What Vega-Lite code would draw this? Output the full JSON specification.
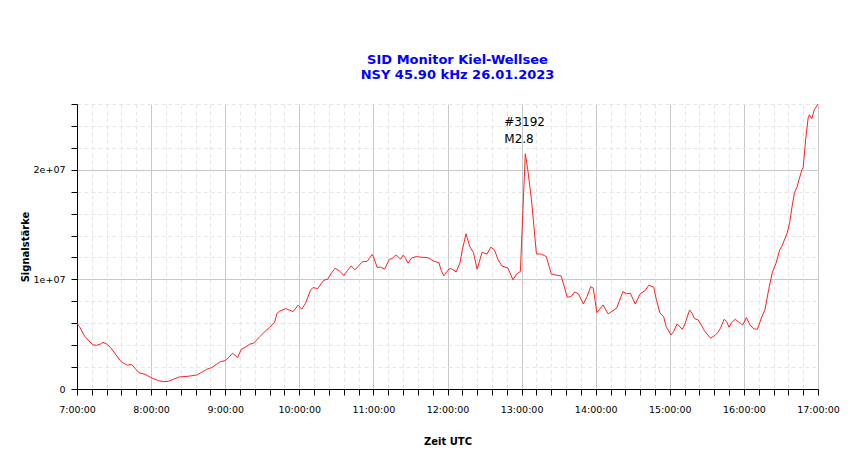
{
  "$schema": "https://vega.github.io/schema/vega-lite/v6.json",
  "autosize": "none",
  "width": 741,
  "height": 285,
  "padding": {"left": 77, "top": 104, "right": 32, "bottom": 70},
  "config": {"view": {"stroke": null}, "font": "DejaVu Sans"},
  "title": {
    "text": ["SID Monitor Kiel-Wellsee", "NSY 45.90 kHz 26.01.2023"],
    "font": "DejaVu Sans",
    "fontSize": 13,
    "fontWeight": "bold",
    "color": "#0000ff",
    "dx": 10,
    "offset": 20
  },
  "layer": [
    {
      "data": {"values": [
        {"Zeit": "2023-01-26T07:00:00Z", "Signal": 6.0e6},
        {"Zeit": "2023-01-26T07:02:00Z", "Signal": 5.7e6},
        {"Zeit": "2023-01-26T07:06:00Z", "Signal": 4.84e6},
        {"Zeit": "2023-01-26T07:09:00Z", "Signal": 4.47e6},
        {"Zeit": "2023-01-26T07:13:00Z", "Signal": 4.02e6},
        {"Zeit": "2023-01-26T07:16:00Z", "Signal": 3.99e6},
        {"Zeit": "2023-01-26T07:19:00Z", "Signal": 4.1e6},
        {"Zeit": "2023-01-26T07:21:00Z", "Signal": 4.26e6},
        {"Zeit": "2023-01-26T07:24:00Z", "Signal": 4.1e6},
        {"Zeit": "2023-01-26T07:27:00Z", "Signal": 3.8e6},
        {"Zeit": "2023-01-26T07:31:00Z", "Signal": 3.2e6},
        {"Zeit": "2023-01-26T07:35:00Z", "Signal": 2.59e6},
        {"Zeit": "2023-01-26T07:37:00Z", "Signal": 2.4e6},
        {"Zeit": "2023-01-26T07:41:00Z", "Signal": 2.16e6},
        {"Zeit": "2023-01-26T07:44:00Z", "Signal": 2.25e6},
        {"Zeit": "2023-01-26T07:47:00Z", "Signal": 1.89e6},
        {"Zeit": "2023-01-26T07:50:00Z", "Signal": 1.49e6},
        {"Zeit": "2023-01-26T07:55:00Z", "Signal": 1.34e6},
        {"Zeit": "2023-01-26T08:01:00Z", "Signal": 0.98e6},
        {"Zeit": "2023-01-26T08:06:00Z", "Signal": 0.76e6},
        {"Zeit": "2023-01-26T08:10:00Z", "Signal": 0.67e6},
        {"Zeit": "2023-01-26T08:14:00Z", "Signal": 0.7e6},
        {"Zeit": "2023-01-26T08:18:00Z", "Signal": 0.89e6},
        {"Zeit": "2023-01-26T08:23:00Z", "Signal": 1.1e6},
        {"Zeit": "2023-01-26T08:30:00Z", "Signal": 1.16e6},
        {"Zeit": "2023-01-26T08:37:00Z", "Signal": 1.28e6},
        {"Zeit": "2023-01-26T08:41:00Z", "Signal": 1.52e6},
        {"Zeit": "2023-01-26T08:45:00Z", "Signal": 1.8e6},
        {"Zeit": "2023-01-26T08:49:00Z", "Signal": 1.95e6},
        {"Zeit": "2023-01-26T08:53:00Z", "Signal": 2.25e6},
        {"Zeit": "2023-01-26T08:56:00Z", "Signal": 2.49e6},
        {"Zeit": "2023-01-26T09:00:00Z", "Signal": 2.59e6},
        {"Zeit": "2023-01-26T09:03:00Z", "Signal": 2.9e6},
        {"Zeit": "2023-01-26T09:06:00Z", "Signal": 3.26e6},
        {"Zeit": "2023-01-26T09:10:00Z", "Signal": 2.86e6},
        {"Zeit": "2023-01-26T09:13:00Z", "Signal": 3.62e6},
        {"Zeit": "2023-01-26T09:17:00Z", "Signal": 3.86e6},
        {"Zeit": "2023-01-26T09:20:00Z", "Signal": 4.1e6},
        {"Zeit": "2023-01-26T09:23:00Z", "Signal": 4.17e6},
        {"Zeit": "2023-01-26T09:28:00Z", "Signal": 4.78e6},
        {"Zeit": "2023-01-26T09:32:00Z", "Signal": 5.23e6},
        {"Zeit": "2023-01-26T09:36:00Z", "Signal": 5.63e6},
        {"Zeit": "2023-01-26T09:40:00Z", "Signal": 6.1e6},
        {"Zeit": "2023-01-26T09:42:00Z", "Signal": 6.9e6},
        {"Zeit": "2023-01-26T09:44:00Z", "Signal": 7.1e6},
        {"Zeit": "2023-01-26T09:49:00Z", "Signal": 7.33e6},
        {"Zeit": "2023-01-26T09:52:00Z", "Signal": 7.2e6},
        {"Zeit": "2023-01-26T09:55:00Z", "Signal": 7.06e6},
        {"Zeit": "2023-01-26T09:59:00Z", "Signal": 7.64e6},
        {"Zeit": "2023-01-26T10:02:00Z", "Signal": 7.28e6},
        {"Zeit": "2023-01-26T10:05:00Z", "Signal": 7.82e6},
        {"Zeit": "2023-01-26T10:09:00Z", "Signal": 8.98e6},
        {"Zeit": "2023-01-26T10:11:00Z", "Signal": 9.25e6},
        {"Zeit": "2023-01-26T10:15:00Z", "Signal": 9.16e6},
        {"Zeit": "2023-01-26T10:18:00Z", "Signal": 9.65e6},
        {"Zeit": "2023-01-26T10:20:00Z", "Signal": 9.93e6},
        {"Zeit": "2023-01-26T10:23:00Z", "Signal": 10.02e6},
        {"Zeit": "2023-01-26T10:26:00Z", "Signal": 10.57e6},
        {"Zeit": "2023-01-26T10:29:00Z", "Signal": 11.02e6},
        {"Zeit": "2023-01-26T10:33:00Z", "Signal": 10.72e6},
        {"Zeit": "2023-01-26T10:36:00Z", "Signal": 10.35e6},
        {"Zeit": "2023-01-26T10:39:00Z", "Signal": 10.8e6},
        {"Zeit": "2023-01-26T10:42:00Z", "Signal": 11.23e6},
        {"Zeit": "2023-01-26T10:45:00Z", "Signal": 10.87e6},
        {"Zeit": "2023-01-26T10:48:00Z", "Signal": 11.23e6},
        {"Zeit": "2023-01-26T10:51:00Z", "Signal": 11.6e6},
        {"Zeit": "2023-01-26T10:55:00Z", "Signal": 11.66e6},
        {"Zeit": "2023-01-26T10:59:00Z", "Signal": 12.27e6},
        {"Zeit": "2023-01-26T11:00:00Z", "Signal": 12.08e6},
        {"Zeit": "2023-01-26T11:03:00Z", "Signal": 11.11e6},
        {"Zeit": "2023-01-26T11:06:00Z", "Signal": 11.11e6},
        {"Zeit": "2023-01-26T11:09:00Z", "Signal": 10.93e6},
        {"Zeit": "2023-01-26T11:13:00Z", "Signal": 11.84e6},
        {"Zeit": "2023-01-26T11:15:00Z", "Signal": 11.9e6},
        {"Zeit": "2023-01-26T11:18:00Z", "Signal": 12.21e6},
        {"Zeit": "2023-01-26T11:20:00Z", "Signal": 12.08e6},
        {"Zeit": "2023-01-26T11:22:00Z", "Signal": 11.84e6},
        {"Zeit": "2023-01-26T11:24:00Z", "Signal": 12.21e6},
        {"Zeit": "2023-01-26T11:26:00Z", "Signal": 11.93e6},
        {"Zeit": "2023-01-26T11:28:00Z", "Signal": 11.48e6},
        {"Zeit": "2023-01-26T11:31:00Z", "Signal": 11.96e6},
        {"Zeit": "2023-01-26T11:35:00Z", "Signal": 12.08e6},
        {"Zeit": "2023-01-26T11:39:00Z", "Signal": 12.02e6},
        {"Zeit": "2023-01-26T11:44:00Z", "Signal": 11.99e6},
        {"Zeit": "2023-01-26T11:49:00Z", "Signal": 11.66e6},
        {"Zeit": "2023-01-26T11:53:00Z", "Signal": 11.53e6},
        {"Zeit": "2023-01-26T11:55:00Z", "Signal": 10.8e6},
        {"Zeit": "2023-01-26T11:57:00Z", "Signal": 10.32e6},
        {"Zeit": "2023-01-26T12:01:00Z", "Signal": 10.93e6},
        {"Zeit": "2023-01-26T12:03:00Z", "Signal": 10.99e6},
        {"Zeit": "2023-01-26T12:07:00Z", "Signal": 10.68e6},
        {"Zeit": "2023-01-26T12:10:00Z", "Signal": 11.48e6},
        {"Zeit": "2023-01-26T12:12:00Z", "Signal": 12.69e6},
        {"Zeit": "2023-01-26T12:15:00Z", "Signal": 14.16e6},
        {"Zeit": "2023-01-26T12:18:00Z", "Signal": 13.0e6},
        {"Zeit": "2023-01-26T12:21:00Z", "Signal": 12.45e6},
        {"Zeit": "2023-01-26T12:24:00Z", "Signal": 10.93e6},
        {"Zeit": "2023-01-26T12:28:00Z", "Signal": 12.48e6},
        {"Zeit": "2023-01-26T12:32:00Z", "Signal": 12.3e6},
        {"Zeit": "2023-01-26T12:35:00Z", "Signal": 12.94e6},
        {"Zeit": "2023-01-26T12:38:00Z", "Signal": 12.69e6},
        {"Zeit": "2023-01-26T12:41:00Z", "Signal": 11.78e6},
        {"Zeit": "2023-01-26T12:44:00Z", "Signal": 11.23e6},
        {"Zeit": "2023-01-26T12:49:00Z", "Signal": 11.02e6},
        {"Zeit": "2023-01-26T12:53:00Z", "Signal": 9.95e6},
        {"Zeit": "2023-01-26T12:56:00Z", "Signal": 10.5e6},
        {"Zeit": "2023-01-26T12:59:00Z", "Signal": 10.72e6},
        {"Zeit": "2023-01-26T13:03:00Z", "Signal": 21.46e6},
        {"Zeit": "2023-01-26T13:05:00Z", "Signal": 20.0e6},
        {"Zeit": "2023-01-26T13:08:00Z", "Signal": 17.26e6},
        {"Zeit": "2023-01-26T13:12:00Z", "Signal": 12.33e6},
        {"Zeit": "2023-01-26T13:16:00Z", "Signal": 12.3e6},
        {"Zeit": "2023-01-26T13:20:00Z", "Signal": 12.08e6},
        {"Zeit": "2023-01-26T13:24:00Z", "Signal": 10.5e6},
        {"Zeit": "2023-01-26T13:27:00Z", "Signal": 10.41e6},
        {"Zeit": "2023-01-26T13:32:00Z", "Signal": 10.32e6},
        {"Zeit": "2023-01-26T13:37:00Z", "Signal": 8.37e6},
        {"Zeit": "2023-01-26T13:40:00Z", "Signal": 8.43e6},
        {"Zeit": "2023-01-26T13:43:00Z", "Signal": 8.86e6},
        {"Zeit": "2023-01-26T13:46:00Z", "Signal": 8.68e6},
        {"Zeit": "2023-01-26T13:50:00Z", "Signal": 7.76e6},
        {"Zeit": "2023-01-26T13:53:00Z", "Signal": 8.43e6},
        {"Zeit": "2023-01-26T13:56:00Z", "Signal": 9.34e6},
        {"Zeit": "2023-01-26T13:58:00Z", "Signal": 9.2e6},
        {"Zeit": "2023-01-26T14:01:00Z", "Signal": 6.97e6},
        {"Zeit": "2023-01-26T14:06:00Z", "Signal": 7.67e6},
        {"Zeit": "2023-01-26T14:10:00Z", "Signal": 6.85e6},
        {"Zeit": "2023-01-26T14:14:00Z", "Signal": 7.15e6},
        {"Zeit": "2023-01-26T14:17:00Z", "Signal": 7.37e6},
        {"Zeit": "2023-01-26T14:22:00Z", "Signal": 8.89e6},
        {"Zeit": "2023-01-26T14:25:00Z", "Signal": 8.68e6},
        {"Zeit": "2023-01-26T14:28:00Z", "Signal": 8.74e6},
        {"Zeit": "2023-01-26T14:32:00Z", "Signal": 7.76e6},
        {"Zeit": "2023-01-26T14:36:00Z", "Signal": 8.68e6},
        {"Zeit": "2023-01-26T14:40:00Z", "Signal": 8.98e6},
        {"Zeit": "2023-01-26T14:43:00Z", "Signal": 9.47e6},
        {"Zeit": "2023-01-26T14:47:00Z", "Signal": 9.29e6},
        {"Zeit": "2023-01-26T14:49:00Z", "Signal": 8.2e6},
        {"Zeit": "2023-01-26T14:52:00Z", "Signal": 6.94e6},
        {"Zeit": "2023-01-26T14:55:00Z", "Signal": 6.6e6},
        {"Zeit": "2023-01-26T14:57:00Z", "Signal": 5.69e6},
        {"Zeit": "2023-01-26T15:01:00Z", "Signal": 4.93e6},
        {"Zeit": "2023-01-26T15:03:00Z", "Signal": 5.23e6},
        {"Zeit": "2023-01-26T15:06:00Z", "Signal": 5.94e6},
        {"Zeit": "2023-01-26T15:10:00Z", "Signal": 5.45e6},
        {"Zeit": "2023-01-26T15:12:00Z", "Signal": 5.84e6},
        {"Zeit": "2023-01-26T15:16:00Z", "Signal": 7.21e6},
        {"Zeit": "2023-01-26T15:18:00Z", "Signal": 6.91e6},
        {"Zeit": "2023-01-26T15:20:00Z", "Signal": 6.42e6},
        {"Zeit": "2023-01-26T15:23:00Z", "Signal": 6.3e6},
        {"Zeit": "2023-01-26T15:27:00Z", "Signal": 5.54e6},
        {"Zeit": "2023-01-26T15:28:00Z", "Signal": 5.32e6},
        {"Zeit": "2023-01-26T15:33:00Z", "Signal": 4.63e6},
        {"Zeit": "2023-01-26T15:37:00Z", "Signal": 4.93e6},
        {"Zeit": "2023-01-26T15:39:00Z", "Signal": 5.18e6},
        {"Zeit": "2023-01-26T15:41:00Z", "Signal": 5.54e6},
        {"Zeit": "2023-01-26T15:44:00Z", "Signal": 6.36e6},
        {"Zeit": "2023-01-26T15:46:00Z", "Signal": 6.15e6},
        {"Zeit": "2023-01-26T15:48:00Z", "Signal": 5.63e6},
        {"Zeit": "2023-01-26T15:50:00Z", "Signal": 6.06e6},
        {"Zeit": "2023-01-26T15:53:00Z", "Signal": 6.36e6},
        {"Zeit": "2023-01-26T15:57:00Z", "Signal": 6.0e6},
        {"Zeit": "2023-01-26T15:59:00Z", "Signal": 5.84e6},
        {"Zeit": "2023-01-26T16:02:00Z", "Signal": 6.51e6},
        {"Zeit": "2023-01-26T16:05:00Z", "Signal": 5.84e6},
        {"Zeit": "2023-01-26T16:08:00Z", "Signal": 5.48e6},
        {"Zeit": "2023-01-26T16:11:00Z", "Signal": 5.45e6},
        {"Zeit": "2023-01-26T16:14:00Z", "Signal": 6.46e6},
        {"Zeit": "2023-01-26T16:17:00Z", "Signal": 7.21e6},
        {"Zeit": "2023-01-26T16:20:00Z", "Signal": 9.04e6},
        {"Zeit": "2023-01-26T16:23:00Z", "Signal": 10.62e6},
        {"Zeit": "2023-01-26T16:26:00Z", "Signal": 11.48e6},
        {"Zeit": "2023-01-26T16:29:00Z", "Signal": 12.69e6},
        {"Zeit": "2023-01-26T16:31:00Z", "Signal": 13.09e6},
        {"Zeit": "2023-01-26T16:35:00Z", "Signal": 14.22e6},
        {"Zeit": "2023-01-26T16:37:00Z", "Signal": 15.13e6},
        {"Zeit": "2023-01-26T16:39:00Z", "Signal": 16.65e6},
        {"Zeit": "2023-01-26T16:41:00Z", "Signal": 17.93e6},
        {"Zeit": "2023-01-26T16:43:00Z", "Signal": 18.42e6},
        {"Zeit": "2023-01-26T16:45:00Z", "Signal": 19.24e6},
        {"Zeit": "2023-01-26T16:47:00Z", "Signal": 20.0e6},
        {"Zeit": "2023-01-26T16:48:00Z", "Signal": 20.21e6},
        {"Zeit": "2023-01-26T16:50:00Z", "Signal": 22.74e6},
        {"Zeit": "2023-01-26T16:52:00Z", "Signal": 24.72e6},
        {"Zeit": "2023-01-26T16:53:00Z", "Signal": 25.02e6},
        {"Zeit": "2023-01-26T16:55:00Z", "Signal": 24.66e6},
        {"Zeit": "2023-01-26T16:57:00Z", "Signal": 25.48e6},
        {"Zeit": "2023-01-26T17:00:00Z", "Signal": 26.0e6}
      ]},
      "mark": {"type": "line", "color": "#ff2020", "strokeWidth": 1},
      "encoding": {
        "x": {
          "field": "Zeit",
          "type": "temporal",
          "scale": {"type": "utc", "nice": false},
          "axis": {
            "title": "Zeit UTC",
            "titleFont": "DejaVu Sans",
            "titleFontSize": 10,
            "titleFontWeight": "bold",
            "titleColor": "black",
            "titlePadding": 23,
            "tickCount": 200,
            "values": [1674716400000, 1674717120000, 1674717840000, 1674718560000, 1674719280000, 1674720000000, 1674720720000, 1674721440000, 1674722160000, 1674722880000, 1674723600000, 1674724320000, 1674725040000, 1674725760000, 1674726480000, 1674727200000, 1674727920000, 1674728640000, 1674729360000, 1674730080000, 1674730800000, 1674731520000, 1674732240000, 1674732960000, 1674733680000, 1674734400000, 1674735120000, 1674735840000, 1674736560000, 1674737280000, 1674738000000, 1674738720000, 1674739440000, 1674740160000, 1674740880000, 1674741600000, 1674742320000, 1674743040000, 1674743760000, 1674744480000, 1674745200000, 1674745920000, 1674746640000, 1674747360000, 1674748080000, 1674748800000, 1674749520000, 1674750240000, 1674750960000, 1674751680000, 1674752400000],
            "format": "%-H:%M:%S",
            "labelExpr": "(datum.value - 1674716400000) % 3600000 === 0 ? datum.label : ''",
            "labelFont": "DejaVu Sans",
            "labelFontSize": 9.5,
            "labelColor": "black",
            "labelPadding": 9,
            "labelFlush": false,
            "domainColor": "black",
            "tickColor": "black",
            "tickSize": 6,
            "gridColor": {"condition": {"test": "(datum.value - 1674716400000) % 3600000 === 0", "value": "#c8c8c8"}, "value": "#e6e6e6"},
            "gridDash": {"condition": {"test": "(datum.value - 1674716400000) % 3600000 === 0", "value": []}, "value": [4, 3]}
          }
        },
        "y": {
          "field": "Signal",
          "type": "quantitative",
          "scale": {"domain": [0, 26000000], "nice": false},
          "axis": {
            "title": "Signalstärke",
            "titleFont": "DejaVu Sans",
            "titleFontSize": 10,
            "titleFontWeight": "bold",
            "titleColor": "black",
            "titlePadding": 3,
            "tickCount": 100,
            "values": [0, 2000000, 4000000, 6000000, 8000000, 10000000, 12000000, 14000000, 16000000, 18000000, 20000000, 22000000, 24000000, 26000000],
            "labelExpr": "datum.value === 0 ? '0' : datum.value === 10000000 ? '1e+07' : datum.value === 20000000 ? '2e+07' : ''",
            "labelFont": "DejaVu Sans",
            "labelFontSize": 9.5,
            "labelColor": "black",
            "labelPadding": 6,
            "domainColor": "black",
            "tickColor": "black",
            "tickSize": 6,
            "gridColor": {"condition": {"test": "datum.value % 10000000 === 0", "value": "#c8c8c8"}, "value": "#e6e6e6"},
            "gridDash": {"condition": {"test": "datum.value % 10000000 === 0", "value": []}, "value": [4, 3]}
          }
        }
      }
    },
    {
      "data": {"values": [
        {"Zeit": "2023-01-26T12:46:00Z", "Signal": 24.0e6, "Label": "#3192\nM2.8"}
      ]},
      "mark": {"type": "text", "align": "left", "baseline": "alphabetic", "lineBreak": "\n", "lineHeight": 17, "fontSize": 12, "color": "black", "font": "DejaVu Sans"},
      "encoding": {
        "x": {"field": "Zeit", "type": "temporal"},
        "y": {"field": "Signal", "type": "quantitative"},
        "text": {"field": "Label", "type": "nominal"}
      }
    }
  ]
}
